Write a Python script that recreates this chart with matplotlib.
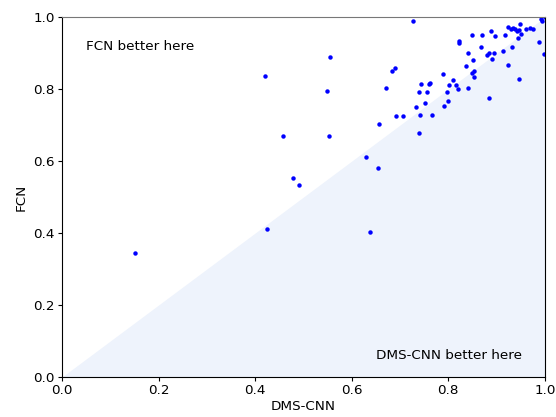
import numpy as np
import matplotlib
matplotlib.use("Agg")
import matplotlib.pyplot as plt

# per-image scores
dms_cnn = [0.151, 0.424, 0.420, 0.458, 0.478, 0.491, 0.549, 0.555, 0.552, 0.629,
           0.638, 0.654, 0.656, 0.672, 0.683, 0.690, 0.692, 0.706, 0.726, 0.733,
           0.739, 0.740, 0.742, 0.744, 0.752, 0.756, 0.760, 0.762, 0.766, 0.790,
           0.791, 0.797, 0.800, 0.802, 0.809, 0.815, 0.820, 0.822, 0.823, 0.836,
           0.841, 0.841, 0.850, 0.850, 0.853, 0.854, 0.852, 0.867, 0.869, 0.881,
           0.885, 0.885, 0.888, 0.890, 0.894, 0.896, 0.913, 0.917, 0.923, 0.924,
           0.930, 0.932, 0.935, 0.939, 0.943, 0.944, 0.946, 0.947, 0.949, 0.950,
           0.961, 0.970, 0.976, 0.988, 0.993, 0.995, 0.999, 1.000]
fcn = [0.344, 0.411, 0.836, 0.669, 0.553, 0.533, 0.794, 0.889, 0.669, 0.611,
       0.403, 0.581, 0.703, 0.803, 0.850, 0.858, 0.725, 0.725, 0.989, 0.750,
       0.679, 0.793, 0.729, 0.814, 0.762, 0.793, 0.813, 0.816, 0.729, 0.843,
       0.754, 0.791, 0.768, 0.812, 0.826, 0.810, 0.801, 0.933, 0.929, 0.863,
       0.899, 0.803, 0.951, 0.845, 0.834, 0.850, 0.881, 0.918, 0.951, 0.895,
       0.899, 0.776, 0.962, 0.883, 0.900, 0.948, 0.907, 0.951, 0.867, 0.973,
       0.968, 0.916, 0.971, 0.967, 0.962, 0.942, 0.827, 0.964, 0.981, 0.954,
       0.968, 0.971, 0.968, 0.931, 0.996, 0.990, 0.898, 1.000]

fig = plt.figure(figsize=(5.56, 4.17), dpi=100)
ax = fig.add_axes([0.1115, 0.096, 0.8685, 0.863])

# region where DMS-CNN wins (below the diagonal)
diag = np.array([0.0, 1.0])
ax.fill_between(diag, 0, diag, color="#eef3fc", linewidth=0)

ax.plot(dms_cnn, fcn, "o", color="blue", markersize=3.2, markeredgewidth=0)

ax.text(0.05, 0.917, "FCN better here", fontsize=9.7, va="center")
ax.text(0.952, 0.061, "DMS-CNN better here", fontsize=9.7, ha="right", va="center")

ax.set_xlim(0, 1)
ax.set_ylim(0, 1)
ax.tick_params(length=2.6, pad=2.5, labelsize=9.7)
ax.set_xlabel("DMS-CNN", fontsize=9.7, labelpad=2)
ax.set_ylabel("FCN", fontsize=9.7, labelpad=4)
ax.spines["top"].set_color("#777777")

fig.savefig("out.png", dpi=100)
